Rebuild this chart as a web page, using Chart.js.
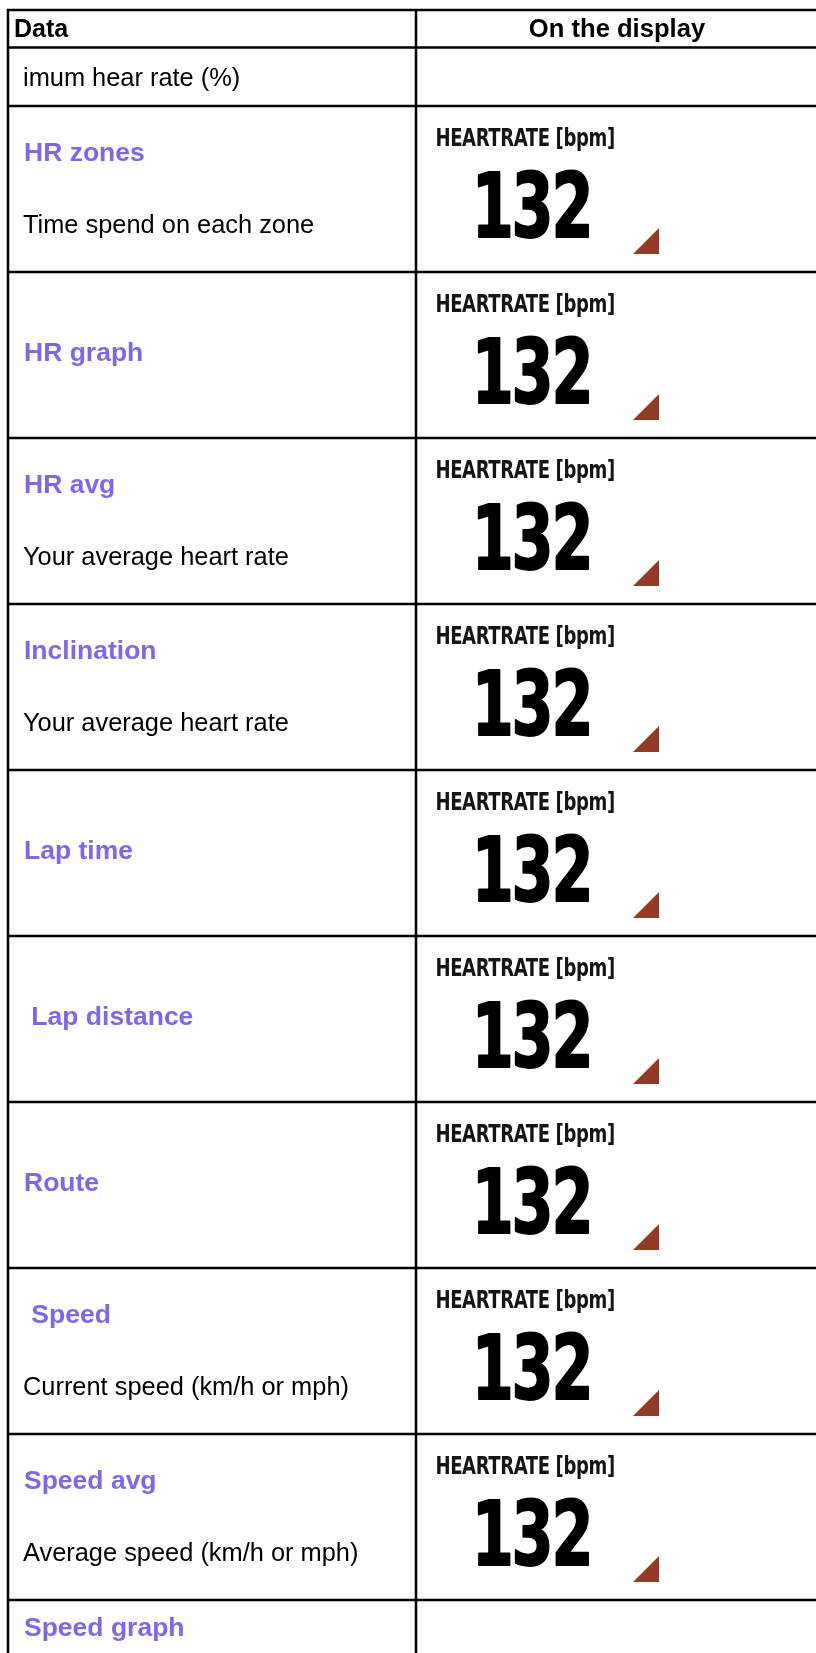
<!DOCTYPE html>
<html>
<head>
<meta charset="utf-8">
<script src="https://cdn.jsdelivr.net/npm/chart.js@4/dist/chart.umd.min.js"></script>
<style>
  html, body { margin: 0; padding: 0; background: #ffffff; }
  #wrap { width: 816px; height: 1653px; overflow: hidden; }
  canvas { display: block; }
</style>
</head>
<body>
<div id="wrap"><canvas id="c" width="816" height="1653"></canvas></div>
<script>
// ---- table content ----
const columnHeaders = ["Data", "On the display"];
const rowTitles = ["", "HR zones", "HR graph", "HR avg", "Inclination", "Lap time", " Lap distance", "Route", " Speed", "Speed avg", "Speed graph"];
const rowDescriptions = ["imum hear rate (%)", "Time spend on each zone", "", "Your average heart rate", "Your average heart rate", "", "", "", "Current speed (km/h or mph)", "Average speed (km/h or mph)", ""];
const displayLabels = ["", "HEARTRATE [bpm]", "HEARTRATE [bpm]", "HEARTRATE [bpm]", "HEARTRATE [bpm]", "HEARTRATE [bpm]", "HEARTRATE [bpm]", "HEARTRATE [bpm]", "HEARTRATE [bpm]", "HEARTRATE [bpm]", ""];
const displayValues = ["", "132", "132", "132", "132", "132", "132", "132", "132", "132", ""];

// ---- layout (in scale units) ----
const L = {
  width: 816, height: 1653,
  left: 8, top: 10, divider: 416,
  headerH: 37.5, shortRowH: 58.5, tallRowH: 166,
  line: 2.5
};
const PURPLE = "#7b68ee";
const TRI = "#923a26";
const SANS = '"Liberation Sans", Arial, Helvetica, sans-serif';
const NARROW = '"Liberation Sans Narrow", "DejaVu Sans Condensed", Roboto, sans-serif';

const tablePlugin = {
  id: 'tablePlugin',
  afterDraw(chart) {
    const ctx = chart.ctx;
    const xs = chart.scales.x, ys = chart.scales.y;
    const X = v => xs.getPixelForValue(v);
    const Y = v => ys.getPixelForValue(v);
    ctx.save();

    // row edges
    const edges = [L.top, L.top + L.headerH];
    rowTitles.forEach((t, i) => {
      const h = displayValues[i] ? L.tallRowH : L.shortRowH;
      edges.push(edges[edges.length - 1] + h);
    });

    // header text
    ctx.fillStyle = "#000";
    ctx.textBaseline = "middle";
    ctx.font = "bold 25px " + SANS;
    ctx.textAlign = "left";
    ctx.fillText(columnHeaders[0], X(L.left + 6), Y((edges[0] + edges[1]) / 2 + 1.5));
    ctx.font = "bold 25.6px " + SANS;
    ctx.textAlign = "center";
    ctx.fillText(columnHeaders[1], X((L.divider + L.width) / 2 + 1), Y((edges[0] + edges[1]) / 2 + 1.5));

    // rows
    rowTitles.forEach((title, i) => {
      const top = edges[i + 1], bot = edges[i + 2];
      const desc = rowDescriptions[i];
      const hasDisp = !!displayValues[i];
      ctx.textAlign = "left";
      ctx.textBaseline = "middle";
      if (title && desc) {
        ctx.fillStyle = PURPLE;
        ctx.font = "bold 26.5px " + SANS;
        ctx.fillText(title, X(24), Y(top + 48));
        ctx.fillStyle = "#000";
        ctx.font = "25.4px " + SANS;
        ctx.fillText(desc, X(23), Y(top + 120));
      } else if (title) {
        ctx.fillStyle = PURPLE;
        ctx.font = "bold 26.5px " + SANS;
        const cy = hasDisp ? (top + bot) / 2 - 1 : top + 29;
        ctx.fillText(title, X(24), Y(cy));
      } else if (desc) {
        ctx.fillStyle = "#000";
        ctx.font = "25.4px " + SANS;
        ctx.fillText(desc, X(23), Y((top + bot) / 2 + 2));
      }

      if (hasDisp) {
        // label, fitted to its box
        ctx.fillStyle = "#151515";
        ctx.textBaseline = "alphabetic";
        ctx.textAlign = "left";
        ctx.font = "bold 25.5px " + NARROW;
        ctx.letterSpacing = "-0.5px";
        let m = ctx.measureText(displayLabels[i]);
        let w = m.actualBoundingBoxRight + m.actualBoundingBoxLeft;
        let x0 = X(437), x1 = X(614);
        ctx.save();
        ctx.translate(x0, Y(top + 40));
        ctx.scale((x1 - x0) / w, 1);
        ctx.fillText(displayLabels[i], m.actualBoundingBoxLeft, 0);
        ctx.restore();

        // big value
        ctx.fillStyle = "#000";
        ctx.strokeStyle = "#000";
        ctx.font = "bold 95px " + NARROW;
        ctx.letterSpacing = "-3px";
        m = ctx.measureText(displayValues[i]);
        w = m.actualBoundingBoxRight + m.actualBoundingBoxLeft;
        const asc = m.actualBoundingBoxAscent;
        x0 = X(478); x1 = X(589);
        const yb = Y(top + 130.5), yt = Y(top + 64.5);
        ctx.save();
        ctx.translate(x0, yb);
        ctx.scale((x1 - x0) / w, (yb - yt) / asc);
        ctx.lineWidth = 2;
        ctx.lineJoin = "round";
        ctx.fillText(displayValues[i], m.actualBoundingBoxLeft, 0);
        ctx.strokeText(displayValues[i], m.actualBoundingBoxLeft, 0);
        ctx.restore();
        ctx.letterSpacing = "0px";

        // triangle marker
        ctx.fillStyle = TRI;
        ctx.beginPath();
        ctx.moveTo(X(633), Y(top + 148));
        ctx.lineTo(X(659), Y(top + 148));
        ctx.lineTo(X(659), Y(top + 122));
        ctx.closePath();
        ctx.fill();
      }
    });

    // grid lines
    ctx.strokeStyle = "#000";
    ctx.lineWidth = L.line;
    ctx.beginPath();
    edges.forEach(e => {
      if (e < L.height) {
        ctx.moveTo(X(L.left - L.line / 2), Y(e));
        ctx.lineTo(X(L.width), Y(e));
      }
    });
    const last = Math.min(edges[edges.length - 1], L.height);
    ctx.moveTo(X(L.left), Y(L.top - L.line / 2));
    ctx.lineTo(X(L.left), Y(last));
    ctx.moveTo(X(L.divider), Y(L.top));
    ctx.lineTo(X(L.divider), Y(last));
    ctx.stroke();

    ctx.restore();
  }
};

new Chart(document.getElementById('c'), {
  type: 'scatter',
  data: { datasets: [{ data: [] }] },
  options: {
    responsive: false,
    devicePixelRatio: 1,
    animation: false,
    layout: { padding: 0 },
    plugins: { legend: { display: false }, tooltip: { enabled: false } },
    scales: {
      x: { type: 'linear', min: 0, max: L.width, display: false },
      y: { type: 'linear', min: 0, max: L.height, reverse: true, display: false }
    }
  },
  plugins: [tablePlugin]
});
</script>
</body>
</html>
